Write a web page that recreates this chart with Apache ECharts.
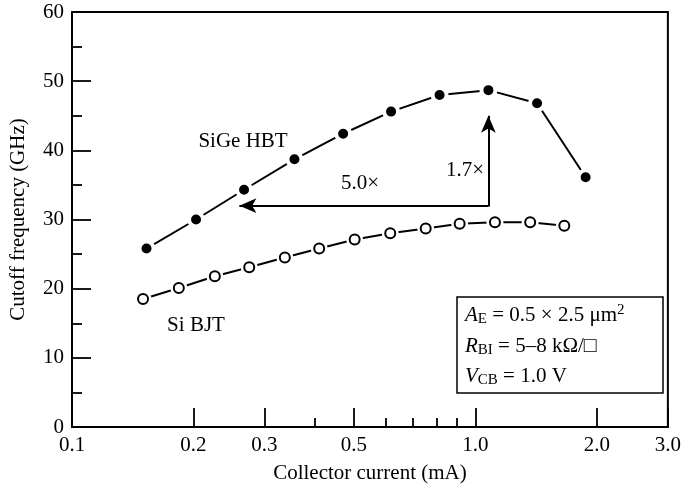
<!DOCTYPE html>
<html>
<head>
<meta charset="utf-8">
<script src="https://cdn.jsdelivr.net/npm/echarts@6/dist/echarts.min.js"></script>
<style>
html,body{margin:0;padding:0;background:#fff;}
#chart{width:684px;height:489px;}
</style>
</head>
<body>
<div id="chart"></div>
<script>
// ---- data ----
const sigeCurrent = [0.153, 0.203, 0.267, 0.356, 0.470, 0.618, 0.815, 1.077, 1.422, 1.876];
const sigeFt      = [25.8, 30.0, 34.3, 38.7, 42.4, 45.6, 48.0, 48.7, 46.8, 36.1];
const siCurrent   = [0.150, 0.184, 0.226, 0.275, 0.337, 0.410, 0.502, 0.615, 0.753, 0.914, 1.118, 1.367, 1.661];
const siFt        = [18.5, 20.1, 21.8, 23.1, 24.5, 25.8, 27.1, 28.0, 28.7, 29.4, 29.6, 29.6, 29.1];
const xTickLabels = [0.1, 0.2, 0.3, 0.5, 1.0, 2.0, 3.0];
const xMinorTicks = [0.4, 0.6, 0.7, 0.8, 0.9];
// annotation arrows: [corner, horizontal tip, vertical tip]
const arrowCorner = [1.077, 32.0];
const arrowLeftTip = [0.26, 32.0];
const arrowUpTip = [1.077, 45.0];

const FONT = 'Liberation Serif';
const FS = 21;
const zip = (a, b) => a.map((v, i) => [v, b[i]]);

const chart = echarts.init(document.getElementById('chart'), null, {renderer: 'canvas'});
const tickStyle = {color: '#000', width: 1.8};
const option = {
  animation: false,
  backgroundColor: '#fff',
  grid: {left: 71, right: 11, top: 12, bottom: 62, show: true, borderColor: '#000', borderWidth: 2, backgroundColor: 'transparent'},
  xAxis: [
    {
      type: 'log', logBase: 10, min: 0.1, max: 3.0,
      axisLine: {show: true, onZero: false, lineStyle: {color: '#000', width: 2}},
      axisTick: {show: false}, axisLabel: {show: false}, splitLine: {show: false}, minorTick: {show: false},
      name: 'Collector current (mA)', nameLocation: 'middle', nameGap: 36,
      nameTextStyle: {fontFamily: FONT, fontSize: FS, color: '#000'}
    },
    {
      type: 'value', min: Math.log10(0.1), max: Math.log10(3.0), position: 'bottom',
      axisLine: {show: false, onZero: false},
      axisTick: {show: true, inside: true, length: 19, customValues: xTickLabels.map(Math.log10), lineStyle: tickStyle},
      axisLabel: {show: true, customValues: xTickLabels.map(Math.log10), formatter: v => Math.pow(10, v).toFixed(1),
                  fontFamily: FONT, fontSize: FS, color: '#000', margin: 8},
      splitLine: {show: false}
    },
    {
      type: 'value', min: Math.log10(0.1), max: Math.log10(3.0), position: 'bottom',
      axisLine: {show: false, onZero: false},
      axisTick: {show: true, inside: true, length: 9, customValues: xMinorTicks.map(Math.log10), lineStyle: tickStyle},
      axisLabel: {show: false},
      splitLine: {show: false}
    }
  ],
  yAxis: {
    type: 'value', min: 0, max: 60, interval: 10,
    axisLine: {show: true, onZero: false, lineStyle: {color: '#000', width: 2}},
    axisTick: {show: true, inside: true, length: 19, lineStyle: tickStyle},
    minorTick: {show: true, splitNumber: 2, length: 10, lineStyle: tickStyle},
    axisLabel: {fontFamily: FONT, fontSize: FS, color: '#000', margin: 8},
    splitLine: {show: false},
    name: 'Cutoff frequency (GHz)', nameLocation: 'middle', nameRotate: 90, nameGap: 43,
    nameTextStyle: {fontFamily: FONT, fontSize: FS, color: '#000'}
  },
  series: [
    {
      name: 'SiGe HBT', type: 'line', xAxisIndex: 0,
      data: zip(sigeCurrent, sigeFt),
      symbol: 'circle', symbolSize: 14,
      itemStyle: {color: '#000', borderColor: '#fff', borderWidth: 4},
      lineStyle: {color: '#000', width: 2},
      z: 3,
      markLine: {
        silent: true, animation: false,
        label: {show: false},
        symbol: ['none', 'arrow'], symbolSize: [11, 17],
        lineStyle: {color: '#000', width: 2, type: 'solid'},
        data: [
          [{coord: arrowCorner}, {coord: arrowLeftTip}],
          [{coord: [arrowCorner[0], arrowCorner[1] - 0.13]}, {coord: arrowUpTip}]
        ]
      }
    },
    {
      name: 'Si BJT halo', type: 'line', xAxisIndex: 0,
      data: zip(siCurrent, siFt),
      symbol: 'circle', symbolSize: 17,
      itemStyle: {color: '#fff', borderWidth: 0},
      lineStyle: {color: '#000', width: 2},
      z: 2
    },
    {
      name: 'Si BJT', type: 'scatter', xAxisIndex: 0,
      data: zip(siCurrent, siFt),
      symbol: 'circle', symbolSize: 10,
      itemStyle: {color: '#fff', borderColor: '#000', borderWidth: 2, opacity: 1},
      z: 4
    }
  ],
  graphic: [
    {type: 'text', x: 243, y: 141, style: {text: 'SiGe HBT', fontFamily: FONT, fontSize: FS, fill: '#000', align: 'center', verticalAlign: 'middle'}},
    {type: 'text', x: 196, y: 325, style: {text: 'Si BJT', fontFamily: FONT, fontSize: FS, fill: '#000', align: 'center', verticalAlign: 'middle'}},
    {type: 'text', x: 360, y: 183, style: {text: '5.0×', fontFamily: FONT, fontSize: FS, fill: '#000', align: 'center', verticalAlign: 'middle'}},
    {type: 'text', x: 465, y: 170, style: {text: '1.7×', fontFamily: FONT, fontSize: FS, fill: '#000', align: 'center', verticalAlign: 'middle'}},
    {type: 'rect', shape: {x: 457, y: 297, width: 206, height: 96}, style: {fill: '#fff', stroke: '#000', lineWidth: 1.5}, z: 10},
    {type: 'text', x: 465, y: 315, z: 11, style: makeRich('{i|A}{sub|E}{n| = 0.5 × 2.5 μm}{sup|2}')},
    {type: 'text', x: 465, y: 346, z: 11, style: makeRich('{i|R}{sub|BI}{n| = 5–8 kΩ/□}')},
    {type: 'text', x: 465, y: 376, z: 11, style: makeRich('{i|V}{sub|CB}{n| = 1.0 V}')}
  ]
};

function makeRich(t) {
  return {
    text: t, align: 'left', verticalAlign: 'middle', fill: '#000',
    fontFamily: FONT, fontSize: FS,
    rich: {
      n: {fontFamily: FONT, fontSize: FS, lineHeight: 24, verticalAlign: 'middle', fill: '#000'},
      i: {fontFamily: FONT, fontSize: FS, fontStyle: 'italic', lineHeight: 24, verticalAlign: 'middle', fill: '#000'},
      sub: {fontFamily: FONT, fontSize: 15, lineHeight: 15, verticalAlign: 'bottom', fill: '#000'},
      sup: {fontFamily: FONT, fontSize: 15, lineHeight: 15, verticalAlign: 'top', fill: '#000'}
    }
  };
}

chart.setOption(option);
</script>
</body>
</html>
